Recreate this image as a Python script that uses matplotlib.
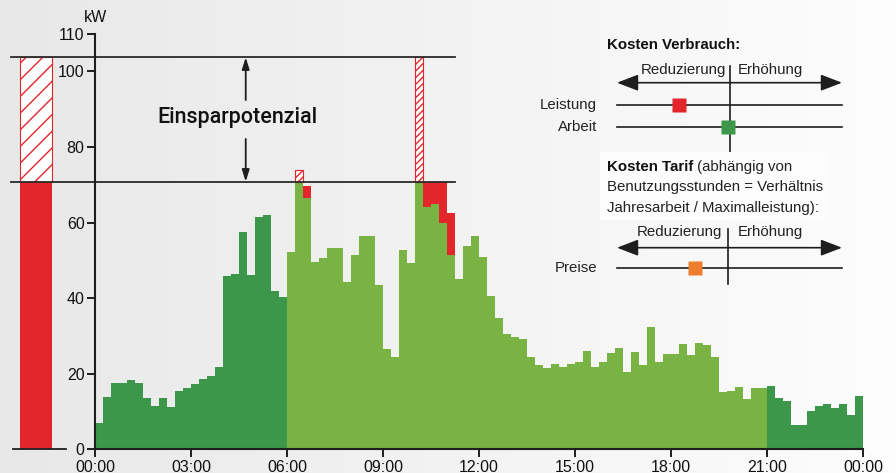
import numpy as np
import matplotlib
matplotlib.use("Agg")
import matplotlib.pyplot as plt
import matplotlib.font_manager as fm
from matplotlib.patches import FancyArrowPatch, Rectangle

# ---------------- data ----------------
# 15-minute load values (kW), 96 intervals, 00:00 .. 24:00 (green part, capped at limit)
load = [7.0, 13.8, 17.5, 17.5, 18.3, 17.5, 13.7, 11.5, 13.7, 11.3, 15.5, 16.2,
        17.3, 18.7, 19.5, 21.8, 45.8, 46.4, 57.4, 46.2, 61.5, 62.0, 41.8, 40.3,
        52.3, 70.8, 66.6, 49.6, 50.7, 53.3, 53.3, 44.2, 51.5, 56.5, 56.5, 43.4,
        26.5, 24.3, 52.6, 49.2,
        70.8, 64.2, 64.9, 60.0, 51.5, 45.0, 53.9, 56.5, 50.8, 40.6, 34.8, 30.6,
        29.8, 29.1, 24.5, 22.2, 21.6, 22.5, 21.9, 22.6, 23.1, 26.0, 21.8, 23.1,
        25.6, 26.7, 20.5, 25.7, 22.4, 32.4, 23.1, 25.2, 25.2, 27.9, 25.0, 28.0,
        27.5, 24.3, 15.2, 15.4, 16.4, 13.4, 16.2, 16.2,
        16.7, 13.6, 12.7, 6.3, 6.3, 10.2, 11.4, 11.9, 10.9, 11.9, 9.0, 14.2]
# shifted load (red blocks): interval index and top value
shift_idx = [26, 41, 42, 43, 44]
shift_top = [69.7, 70.8, 70.8, 70.8, 62.5]
# peaks above the limit (hatched)
peak_idx = [25, 40]
peak_top = [73.9, 103.7]
peak_max = 103.7      # kW, original maximum
limit = 70.8          # kW, reduced maximum
hi_tariff = (6, 21)   # hours with light green
yticks = [0, 20, 40, 60, 80, 100, 110]
xtick_hours = [0, 3, 6, 9, 12, 15, 18, 21, 24]
xtick_labels = ["00:00", "03:00", "06:00", "09:00", "12:00", "15:00", "18:00", "21:00", "00:00"]
# cost indicators (-1 = Reduzierung ... +1 = Erhöhung)
verbrauch_labels = ["Leistung", "Arbeit"]
verbrauch_values = [-0.45, -0.01]
tarif_labels = ["Preise"]
tarif_values = [-0.31]

# ---------------- fonts ----------------
def has_font(name):
    try:
        fm.findfont(fm.FontProperties(family=name), fallback_to_default=False)
        return True
    except Exception:
        return False

REG = "Liberation Sans" if has_font("Liberation Sans") else "DejaVu Sans"
NARROW = "Liberation Sans Narrow" if has_font("Liberation Sans Narrow") else REG
HEAD = "Roboto" if has_font("Roboto") else REG
plt.rcParams["font.family"] = [REG, "DejaVu Sans"]
plt.rcParams["hatch.linewidth"] = 1.0

DARK = "#3c974a"
LIGHT = "#78b343"
RED = "#e3262c"
ORANGE = "#ee7d2d"
INK = "#1e1e1e"

W, H = 896, 473
fig = plt.figure(figsize=(W / 100, H / 100), dpi=100)

# background gradient
bg = fig.add_axes([0, 0, 1, 1], zorder=0)
grad = np.linspace(232, 253, 256)[None, :] / 255.0
bg.imshow(np.dstack([grad, grad, grad]), aspect="auto", extent=[0, 1, 0, 1])
bg.set_axis_off()

# main axes mapped onto pixel frame
x0_px, px_per_h = 95.0, 32.0
y0_px, px_per_kw = 449.3, 3.78
ax = fig.add_axes([0, 0, 1, 1], zorder=1)
ax.patch.set_alpha(0)
ax.set_xlim(-x0_px / px_per_h, (W - x0_px) / px_per_h)
ax.set_ylim((y0_px - H) / px_per_kw, y0_px / px_per_kw)

n = len(load)
xs = np.arange(n) * 0.25
colors = [LIGHT if hi_tariff[0] <= h < hi_tariff[1] else DARK for h in xs]
ax.bar(xs, load, width=0.25, align="edge", color=colors, linewidth=0, zorder=2)

# shifted load (red)
for i, t in zip(shift_idx, shift_top):
    ax.bar(xs[i], t - load[i], bottom=load[i], width=0.25, align="edge",
           color=RED, linewidth=0, zorder=3)
# peaks (hatched)
for i, t in zip(peak_idx, peak_top):
    ax.bar(xs[i], t - limit, bottom=limit, width=0.25, align="edge",
           facecolor="white", edgecolor=RED, hatch="/////", linewidth=0.8, zorder=3)

# comparison bar left
cmp_x = -2.344
ax.bar(cmp_x, limit, width=1.0, align="edge", color=RED, linewidth=0, zorder=3, clip_on=False)
ax.bar(cmp_x, peak_max - limit, bottom=limit, width=1.0, align="edge",
       facecolor="white", edgecolor=RED, hatch="//", linewidth=0.8, zorder=3, clip_on=False)
ax.plot([-2.56, -0.91], [0, 0], color=INK, lw=1.3, zorder=4, clip_on=False)

# limit lines
for yv in (peak_max, limit):
    ax.plot([-2.625, 11.25], [yv, yv], color="#2a2a2a", lw=1.3, zorder=5)

# Einsparpotenzial arrows + text
ax_x = 4.71
ax.annotate("", xy=(ax_x, peak_max), xytext=(ax_x, 92.4),
            arrowprops=dict(arrowstyle="-|>,head_length=0.7,head_width=0.22",
                            color=INK, lw=1.3, shrinkA=0, shrinkB=0), zorder=6)
ax.annotate("", xy=(ax_x, limit), xytext=(ax_x, 82.1),
            arrowprops=dict(arrowstyle="-|>,head_length=0.7,head_width=0.22",
                            color=INK, lw=1.3, shrinkA=0, shrinkB=0), zorder=6)
ax.text(4.44, 87.9, "Einsparpotenzial", ha="center", va="center",
        fontsize=15.5, fontweight="medium", color="#111111",
        family=[HEAD, REG, "DejaVu Sans"], zorder=6)

# axes / spines
for s in ("top", "right"):
    ax.spines[s].set_visible(False)
ax.spines["left"].set_position(("data", 0))
ax.spines["bottom"].set_position(("data", 0))
ax.spines["left"].set_bounds(0, 110)
ax.spines["bottom"].set_bounds(0, 24)
for s in ("left", "bottom"):
    ax.spines[s].set_linewidth(1.5)
    ax.spines[s].set_color(INK)
    ax.spines[s].set_zorder(6)
ax.set_yticks(yticks)
ax.set_yticklabels([str(v) for v in yticks])
ax.set_xticks(xtick_hours)
ax.set_xticklabels(xtick_labels)
ax.tick_params(axis="both", direction="out", length=6, width=1.4, color=INK,
               labelsize=11.5, labelcolor="#111111", pad=1.5)
ax.text(0, 114.3, "kW", ha="center", va="center", fontsize=11.5, color="#111111")

# ---------------- right panel ----------------
pl, pr, pt, pb = 617.0, 842.0, 40.0, 290.0
pa = fig.add_axes([pl / W, 1 - pb / H, (pr - pl) / W, (pb - pt) / H], zorder=3)
pa.set_xlim(-1, 1)
pa.set_ylim(pb, pt)
pa.set_axis_off()
cx = (pl + pr) / 2
sx = (pr - pl) / 2
def xp(px):
    return (px - cx) / sx

fs = 10.8
FAM = [NARROW, REG, "DejaVu Sans"]
TXT = "#222222"
def dbl_arrow(y):
    a = FancyArrowPatch((-1, y), (1, y), arrowstyle="<|-|>,head_length=1.3,head_width=0.5",
                        mutation_scale=10, color=INK, lw=1.2, shrinkA=0, shrinkB=0,
                        clip_on=False)
    pa.add_patch(a)

# Kosten Verbrauch
pa.text(xp(607), 45, "Kosten Verbrauch:", ha="left", va="center", fontsize=fs,
        fontweight="bold", family=FAM, color="#111111", clip_on=False)
pa.text(xp(683), 70, "Reduzierung", ha="center", va="center", fontsize=fs,
        family=FAM, color=TXT)
pa.text(xp(770), 70, "Erhöhung", ha="center", va="center", fontsize=fs,
        family=FAM, color=TXT)
dbl_arrow(82.7)
pa.plot([0, 0], [66, 152], color=INK, lw=1.2, clip_on=False)
rows_y = [105, 127]
for lab, val, yy, col in zip(verbrauch_labels, verbrauch_values, rows_y, [RED, DARK]):
    pa.plot([-1, 1], [yy, yy], color=INK, lw=1.2, clip_on=False)
    pa.plot([val], [yy], marker="s", markersize=9.4, color=col, mec="none",
            clip_on=False, zorder=5)
    pa.text(xp(597), yy, lab, ha="right", va="center", fontsize=fs,
            family=FAM, color=TXT, clip_on=False)

# Kosten Tarif
pa.add_patch(Rectangle((xp(600), 152), xp(827) - xp(600), 68, facecolor="#fdfdfd",
                       edgecolor="none", clip_on=False, zorder=2))
t1 = pa.text(xp(607), 167, "Kosten Tarif", ha="left", va="center", fontsize=fs,
             fontweight="bold", family=FAM, color="#111111", clip_on=False, zorder=3)
pa.annotate(" (abhängig von", xy=(1, 0.5), xycoords=t1, ha="left", va="center",
            fontsize=fs, family=FAM, color=TXT, annotation_clip=False, zorder=3)
pa.text(xp(607), 187.5, "Benutzungsstunden = Verhältnis", ha="left", va="center",
        fontsize=fs, family=FAM, color=TXT, clip_on=False, zorder=3)
pa.text(xp(607), 208, "Jahresarbeit / Maximalleistung):", ha="left", va="center",
        fontsize=fs, family=FAM, color=TXT, clip_on=False, zorder=3)
pa.text(xp(679), 232, "Reduzierung", ha="center", va="center", fontsize=fs,
        family=FAM, color=TXT)
pa.text(xp(770), 232, "Erhöhung", ha="center", va="center", fontsize=fs,
        family=FAM, color=TXT)
dbl_arrow(247.7)
pa.plot([xp(727.7)] * 2, [229, 284], color=INK, lw=1.2, clip_on=False)
for lab, val in zip(tarif_labels, tarif_values):
    pa.plot([-1, 1], [268, 268], color=INK, lw=1.2, clip_on=False)
    pa.plot([val], [268], marker="s", markersize=9.4, color=ORANGE, mec="none",
            clip_on=False, zorder=5)
    pa.text(xp(597), 268, lab, ha="right", va="center", fontsize=fs,
            family=FAM, color=TXT, clip_on=False)

fig.savefig("out.png", dpi=100)
